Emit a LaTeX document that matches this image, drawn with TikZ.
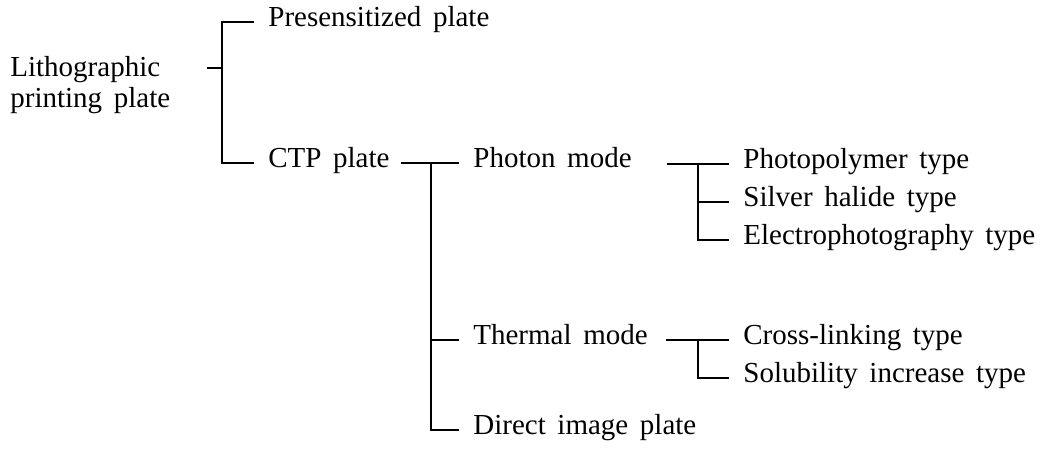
\documentclass[tikz,border=0pt]{standalone}
\usepackage{fontspec}
\setmainfont{Liberation Serif}[WordSpace=1.6]
\begin{document}
\begin{tikzpicture}[x=0.5pt,y=-0.5pt,
  lbl/.style={anchor=mid west, inner xsep=7.5pt, inner ysep=0pt, font=\fontsize{14.5}{15.5}\selectfont},
  conn/.style={draw=black, line width=1pt, line cap=rect}]
\useasboundingbox (0,0) rectangle (1040,449);
% labels
\node[inner sep=0pt, anchor=base west, font=\fontsize{14.5}{15.5}\selectfont] (lith) at (10,77)
  {\begin{tabular}[t]{@{}l@{}}Lithographic\\printing plate\end{tabular}};
\node[lbl] (pres) at (253,22) {Presensitized plate};
\node[lbl] (ctp) at (253,163) {CTP plate};
\node[lbl] (photon) at (458,163) {Photon mode};
\node[lbl] (thermal) at (458,340) {Thermal mode};
\node[lbl] (direct) at (458,430) {Direct image plate};
\node[lbl] (photo) at (728,164) {Photopolymer type};
\node[lbl] (silver) at (728,202) {Silver halide type};
\node[lbl] (electro) at (728,240) {Electrophotography type};
\node[lbl] (cross) at (728,340) {Cross-linking type};
\node[lbl] (solub) at (728,378) {Solubility increase type};
% junction coordinates
\coordinate (l0) at (208,68);
\coordinate (j1) at (222,68);
\coordinate (c0) at (402,163);
\coordinate (j2) at (431,163);
\coordinate (p0) at (668,164);
\coordinate (j3) at (698,164);
\coordinate (t0) at (667,340);
\coordinate (j4) at (698,340);
% connectors
\draw[conn] (l0) -- (j1);
\draw[conn] (pres.mid west) -| (j1) |- (ctp.mid west);
\draw[conn] (c0) -- (photon.mid west);
\draw[conn] (j2) |- (thermal.mid west);
\draw[conn] (j2) |- (direct.mid west);
\draw[conn] (p0) -- (photo.mid west);
\draw[conn] (j3) |- (silver.mid west);
\draw[conn] (j3) |- (electro.mid west);
\draw[conn] (t0) -- (cross.mid west);
\draw[conn] (j4) |- (solub.mid west);
\end{tikzpicture}
\end{document}
